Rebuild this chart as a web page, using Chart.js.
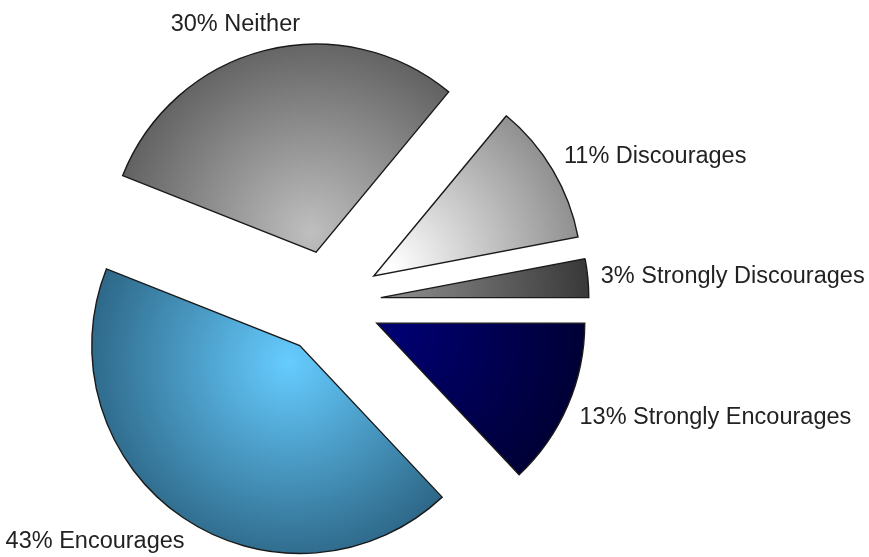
<!DOCTYPE html>
<html>
<head>
<meta charset="utf-8">
<script src="https://cdn.jsdelivr.net/npm/chart.js@4.4.1/dist/chart.umd.min.js"></script>
<style>
  html, body { margin: 0; padding: 0; background: #fff; }
  #wrap { width: 869px; height: 557px; }
</style>
</head>
<body>
<div id="wrap"><canvas id="pie-chart"></canvas></div>
<script>
// datos del grafico
const categories = ['Strongly Encourages', 'Encourages', 'Neither', 'Discourages', 'Strongly Discourages'];
const shares = [13, 43, 30, 11, 3];

// colores del degradado: centro y borde de cada porcion
const innerColors = ['#000072', '#66ccff', '#bfbfbf', '#ffffff', '#8a8a8a'];
const outerColors = ['#000030', '#2c6585', '#5c5c5c', '#858585', '#303030'];

const explodeGap = 52;
const pieRadius = 208;

// separamos cada porcion del centro a lo largo de su angulo medio
const baseArcDraw = Chart.ArcElement.prototype.draw;
Chart.ArcElement.prototype.draw = function (ctx) {
  const mid = (this.startAngle + this.endAngle) / 2;
  ctx.save();
  ctx.translate(Math.cos(mid) * explodeGap, Math.sin(mid) * explodeGap);
  baseArcDraw.call(this, ctx);
  ctx.restore();
};

function sliceFill(context) {
  const chart = context.chart;
  const area = chart.chartArea;
  const i = context.dataIndex;
  if (!area) return innerColors[i];
  const cx = (area.left + area.right) / 2;
  const cy = (area.top + area.bottom) / 2;
  const total = shares.reduce((a, b) => a + b, 0);
  const before = shares.slice(0, i).reduce((a, b) => a + b, 0);
  const mid = (before + shares[i] / 2) / total * 2 * Math.PI;
  const gx = cx + Math.cos(mid) * 20;
  const gy = cy + Math.sin(mid) * 20;
  const g = chart.ctx.createRadialGradient(gx, gy, 0, gx, gy, pieRadius);
  g.addColorStop(0, innerColors[i]);
  g.addColorStop(1, outerColors[i]);
  return g;
}

// etiquetas fuera de cada porcion
const outsideLabels = {
  id: 'outsideLabels',
  afterDatasetsDraw(chart) {
    const ctx = chart.ctx;
    const meta = chart.getDatasetMeta(0);
    ctx.save();
    ctx.font = '23.5px "Liberation Sans", Arial, sans-serif';
    ctx.fillStyle = '#222222';
    ctx.textBaseline = 'middle';
    ctx.textAlign = 'left';
    meta.data.forEach((arc, i) => {
      const mid = (arc.startAngle + arc.endAngle) / 2;
      const cos = Math.cos(mid), sin = Math.sin(mid);
      const dist = explodeGap + arc.outerRadius + 13;
      const px = arc.x + cos * dist;
      const py = arc.y + sin * dist;
      const text = shares[i] + '% ' + categories[i];
      const w = ctx.measureText(text).width;
      const k = Math.min(1, Math.max(0, (1 - 1.6 * cos) / 2));
      ctx.fillText(text, px - w * k, py + sin * 15 + 1);
    });
    ctx.restore();
  }
};

new Chart('pie-chart', {
  type: 'pie',
  data: {
    labels: categories,
    datasets: [{
      data: shares,
      backgroundColor: sliceFill,
      borderColor: '#1a1a1a',
      borderWidth: 1.4,
      borderJoinStyle: 'miter',
      radius: pieRadius
    }]
  },
  options: {
    responsive: true,
    maintainAspectRatio: false,
    animation: false,
    rotation: 90,
    layout: { padding: { left: 0, right: 211, top: 48, bottom: 0 } },
    plugins: {
      legend: { display: false },
      tooltip: { enabled: false }
    }
  },
  plugins: [outsideLabels]
});
</script>
</body>
</html>
